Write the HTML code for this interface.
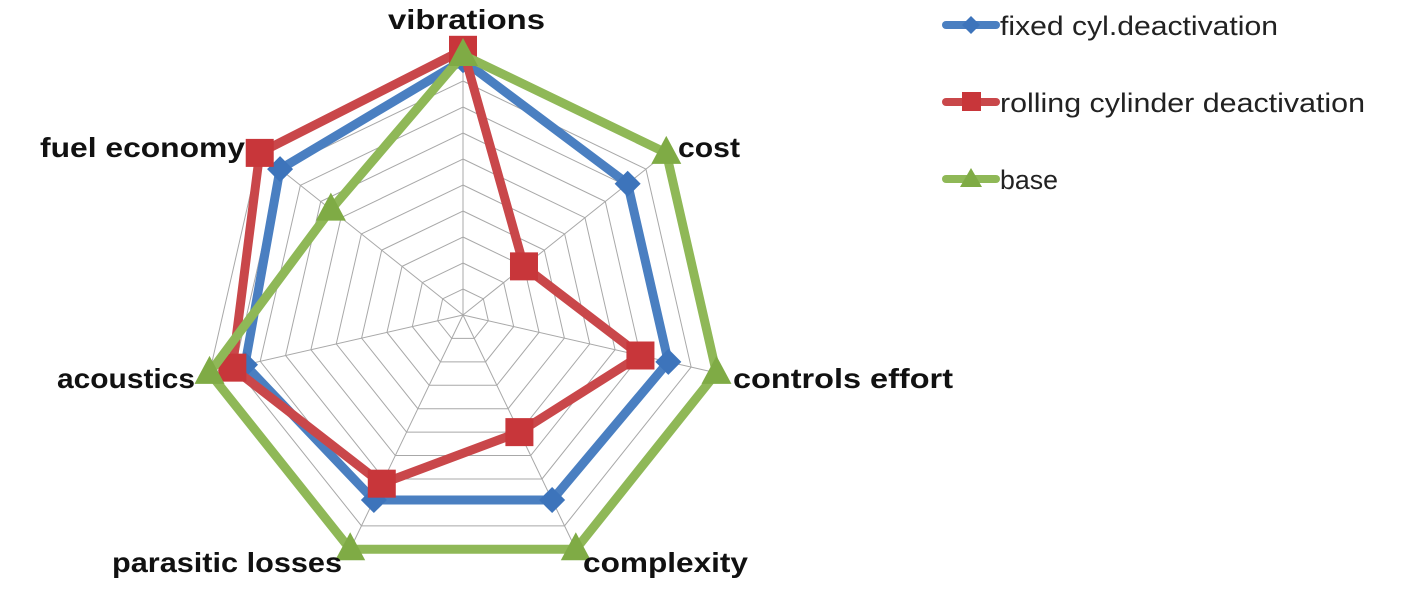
<!DOCTYPE html>
<html><head><meta charset="utf-8"><style>
html,body{margin:0;padding:0;background:#fff;}
svg{display:block;}
text{font-family:"Liberation Sans",sans-serif;}
</style></head><body>
<svg id="s" width="1402" height="592" viewBox="0 0 1402 592" xmlns="http://www.w3.org/2000/svg">
<g id="grid" stroke="#a8a8a8" stroke-width="1" fill="none"></g>
<g id="series"></g>
<g font-weight="bold" font-size="28" fill="#111" lengthAdjust="spacingAndGlyphs">
<text x="388" y="29" textLength="157" lengthAdjust="spacingAndGlyphs">vibrations</text>
<text x="40" y="157" textLength="205" lengthAdjust="spacingAndGlyphs">fuel economy</text>
<text x="678" y="157" textLength="62" lengthAdjust="spacingAndGlyphs">cost</text>
<text x="57" y="388" textLength="138" lengthAdjust="spacingAndGlyphs">acoustics</text>
<text x="733" y="388" textLength="220" lengthAdjust="spacingAndGlyphs">controls effort</text>
<text x="112" y="572" textLength="230" lengthAdjust="spacingAndGlyphs">parasitic losses</text>
<text x="583" y="572" textLength="165" lengthAdjust="spacingAndGlyphs">complexity</text>
</g>
<g font-size="27" fill="#222">
<line x1="946" y1="25" x2="996" y2="25" stroke="#4a7fc1" stroke-width="8" stroke-linecap="round"/>
<polygon points="971,16 980,25 971,34 962,25" fill="#3d74bb"/>
<text x="1000" y="35" textLength="278" lengthAdjust="spacingAndGlyphs">fixed cyl.deactivation</text>
<line x1="946" y1="102" x2="996" y2="102" stroke="#c9474a" stroke-width="8" stroke-linecap="round"/>
<rect x="962" y="92" width="19" height="19" fill="#c8363a"/>
<text x="1000" y="112" textLength="365" lengthAdjust="spacingAndGlyphs">rolling cylinder deactivation</text>
<line x1="946" y1="179" x2="996" y2="179" stroke="#8fb857" stroke-width="8" stroke-linecap="round"/>
<polygon points="971,168 982,187 960,187" fill="#7fab45"/>
<text x="1000" y="189" textLength="58" lengthAdjust="spacingAndGlyphs">base</text>
</g>
</svg>
<script>
var cx=463,cy=315,R=260,N=7,ns="http://www.w3.org/2000/svg";
function pt(i,v){var a=(-90+i*360/N)*Math.PI/180;return [cx+Math.cos(a)*R*v/10,cy+Math.sin(a)*R*v/10];}
var g=document.getElementById('grid');
for(var r=1;r<=10;r++){var p=[];for(var i=0;i<N;i++)p.push(pt(i,r).join(','));var e=document.createElementNS(ns,'polygon');e.setAttribute('points',p.join(' '));g.appendChild(e);}
for(var i=0;i<N;i++){var q=pt(i,10);var l=document.createElementNS(ns,'line');l.setAttribute('x1',cx);l.setAttribute('y1',cy);l.setAttribute('x2',q[0]);l.setAttribute('y2',q[1]);g.appendChild(l);}
var S=[
 {c:'#4a7fc1',m:'#3d74bb',t:'d',v:[9.8,8.1,8.1,7.9,7.9,8.6,9.0]},
 {c:'#c9474a',m:'#c8363a',t:'s',v:[10.2,3.0,7.0,5.0,7.2,9.1,10.0]},
 {c:'#8fb857',m:'#7fab45',t:'t',v:[10,10,10,10,10,10,6.5]}];
var sg=document.getElementById('series');
S.forEach(function(s){var p=[];for(var i=0;i<N;i++)p.push(pt(i,s.v[i]));
 var e=document.createElementNS(ns,'polygon');e.setAttribute('points',p.map(function(a){return a.join(',')}).join(' '));
 e.setAttribute('fill','none');e.setAttribute('stroke',s.c);e.setAttribute('stroke-width','9');e.setAttribute('stroke-linejoin','round');sg.appendChild(e);
 p.forEach(function(a){var m;var x=a[0],y=a[1];
  if(s.t=='d'){m=document.createElementNS(ns,'polygon');m.setAttribute('points',x+','+(y-13)+' '+(x+13)+','+y+' '+x+','+(y+13)+' '+(x-13)+','+y);}
  else if(s.t=='s'){m=document.createElementNS(ns,'rect');m.setAttribute('x',x-14);m.setAttribute('y',y-14);m.setAttribute('width',28);m.setAttribute('height',28);}
  else{m=document.createElementNS(ns,'polygon');m.setAttribute('points',x+','+(y-17)+' '+(x+15)+','+(y+11)+' '+(x-15)+','+(y+11));}
  m.setAttribute('fill',s.m);sg.appendChild(m);});
});
</script>
</body></html>
